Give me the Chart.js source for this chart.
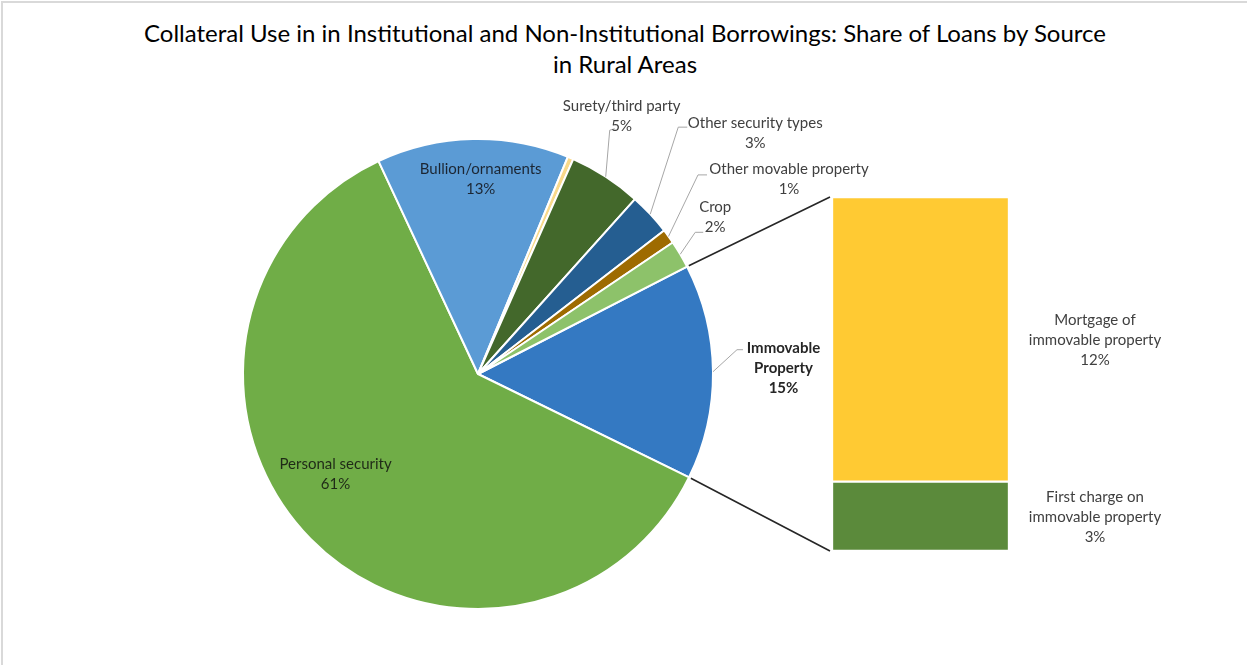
<!DOCTYPE html>
<html>
<head>
<meta charset="utf-8">
<script src="https://cdn.jsdelivr.net/npm/chart.js@4.4.1/dist/chart.umd.min.js"></script>
<style>
    body { margin: 0; background: #fff; }
    #wrap { position: relative; width: 1247px; height: 665px; background: #fff; overflow: hidden; }
    #frame { position: absolute; left: 1px; top: 1px; right: -4px; bottom: -4px; border-left: 2px solid #d9d9d9; border-top: 2px solid #d9d9d9; }
    #title { position: absolute; left: 0; top: 17px; width: 1250px; text-align: center; font-family: Lato, "Noto Sans", sans-serif; font-size: 24px; line-height: 31px; color: #000; }
    canvas { position: absolute; left: 0; top: 0; }
</style>
</head>
<body>
<div id="wrap">
    <div id="frame"></div>
    <div id="title">Collateral Use in in Institutional and Non-Institutional Borrowings: Share of Loans by Source<br>in Rural Areas</div>
    <canvas id="pieChart" width="1247" height="665"></canvas>
    <canvas id="barChart" width="1247" height="665"></canvas>
</div>
<script>
// Pie slices (clockwise, starting with the split-out slice)
const sliceLabels = ["Immovable Property", "Personal security", "Bullion/ornaments", "Unspecified",
    "Surety/third party", "Other security types", "Other movable property", "Crop"];
const sliceValues = [14.8, 60.8, 13.2, 0.4, 5.0, 2.9, 1.0, 1.9];
const sliceColors = ["#3479C2", "#70AD47", "#5B9BD5", "#F9D98A", "#43682B", "#255E91", "#9E6B00", "#8DC26A"];

// Breakdown of Immovable Property (bottom segment first)
const barLabels = ["First charge on immovable property", "Mortgage of immovable property"];
const barValues = [2.9, 11.9];
const barColors = ["#5B8A3B", "#FFCA33"];

const labelFont = "Lato, 'Noto Sans', sans-serif";
const lineHeight = 20;

// where each pie label sits (relative to its slice) and how it is drawn
const sliceLabelLayout = [
    { lines: ["Immovable", "Property"], bold: true, color: "#262626", dx: 70.5, dy: -4, elbow: [-46.5, -18], end: [-40.5, -18] },
    { lines: ["Personal security"], inside: true, k: 0.76, dx: -15, dy: -25, color: "#1f2a17" },
    { lines: ["Bullion/ornaments"], inside: true, k: 0.828, dx: 7, dy: 0, color: "#1c2633" },
    null,
    { lines: ["Surety/third party"], color: "#404040", dx: 16, dy: -61, elbow: [-12, 14.5], end: [-7, 13] },
    { lines: ["Other security types"], color: "#404040", dx: 105, dy: -81, elbow: [-77, -6], end: [-68, -6] },
    { lines: ["Other movable property"], color: "#404040", dx: 120.5, dy: -57, elbow: [-91, -4.5], end: [-82, -4.5] },
    { lines: ["Crop"], color: "#404040", dx: 35, dy: -37.5, elbow: [-20, 15.5], end: [-12, 15.5] },
];
const barLabelLines = [["First charge on", "immovable property"], ["Mortgage of", "immovable property"]];

function drawLines(ctx, lines, cx, cy) {
    lines.forEach((line, j) => {
        ctx.fillText(line, cx, cy + (j - (lines.length - 1) / 2) * lineHeight);
    });
}

// Pie data labels with leader lines
const pieLabelPlugin = {
    id: "pieLabels",
    afterDatasetsDraw(chart) {
        const ctx = chart.ctx;
        const meta = chart.getDatasetMeta(0);
        ctx.save();
        ctx.textAlign = "center";
        ctx.textBaseline = "middle";
        meta.data.forEach((arc, i) => {
            const lay = sliceLabelLayout[i];
            if (!lay) return;
            const { x, y, startAngle, endAngle, outerRadius } = arc.getProps(["x", "y", "startAngle", "endAngle", "outerRadius"], true);
            const mid = (startAngle + endAngle) / 2;
            let cx, cy;
            if (lay.inside) {
                cx = x + Math.cos(mid) * outerRadius * lay.k + lay.dx;
                cy = y + Math.sin(mid) * outerRadius * lay.k + lay.dy;
            } else {
                const ox = x + Math.cos(mid) * outerRadius;
                const oy = y + Math.sin(mid) * outerRadius;
                cx = ox + lay.dx;
                cy = oy + lay.dy;
                ctx.strokeStyle = "#a6a6a6";
                ctx.lineWidth = 1;
                ctx.beginPath();
                ctx.moveTo(ox, oy);
                ctx.lineTo(cx + lay.elbow[0], cy + lay.elbow[1]);
                ctx.lineTo(cx + lay.end[0], cy + lay.end[1]);
                ctx.stroke();
            }
            ctx.fillStyle = lay.color;
            ctx.font = (lay.bold ? "bold " : "") + "15px " + labelFont;
            drawLines(ctx, [...lay.lines, Math.round(sliceValues[i]) + "%"], cx, cy);
        });
        ctx.restore();
    },
};

const pieChart = new Chart(document.getElementById("pieChart"), {
    type: "pie",
    data: {
        labels: sliceLabels,
        datasets: [{
            data: sliceValues,
            backgroundColor: sliceColors,
            borderColor: "#ffffff",
            borderWidth: 2,
        }],
    },
    options: {
        responsive: false,
        animation: false,
        rotation: 62.8,
        layout: { padding: { left: 242, right: 533, top: 138, bottom: 55 } },
        plugins: { legend: { display: false }, tooltip: { enabled: false } },
    },
    plugins: [pieLabelPlugin],
});

// Bar labels + connector lines back to the pie slice
const barExtrasPlugin = {
    id: "barExtras",
    afterDraw(chart) {
        const ctx = chart.ctx;
        ctx.save();
        ctx.textAlign = "center";
        ctx.textBaseline = "middle";
        ctx.font = "15px " + labelFont;
        ctx.fillStyle = "#404040";
        const bars = chart.data.datasets.map((ds, i) => chart.getDatasetMeta(i).data[0]);
        bars.forEach((bar, i) => {
            const { x, y, base, width } = bar.getProps(["x", "y", "base", "width"], true);
            drawLines(ctx, [...barLabelLines[i], Math.round(barValues[i]) + "%"], x + width / 2 + 86, (y + base) / 2 + 1);
        });

        const arc = pieChart.getDatasetMeta(0).data[0];
        const p = arc.getProps(["x", "y", "startAngle", "endAngle", "outerRadius"], true);
        const top = bars[bars.length - 1].getProps(["x", "y", "width"], true);
        const bottom = bars[0].getProps(["x", "base", "width"], true);
        ctx.strokeStyle = "#262626";
        ctx.lineWidth = 1.6;
        ctx.beginPath();
        ctx.moveTo(p.x + Math.cos(p.startAngle) * (p.outerRadius + 2), p.y + Math.sin(p.startAngle) * (p.outerRadius + 2));
        ctx.lineTo(top.x - top.width / 2 - 2, top.y);
        ctx.moveTo(p.x + Math.cos(p.endAngle) * (p.outerRadius + 2), p.y + Math.sin(p.endAngle) * (p.outerRadius + 2));
        ctx.lineTo(bottom.x - bottom.width / 2 - 2, bottom.base);
        ctx.stroke();
        ctx.restore();
    },
};

new Chart(document.getElementById("barChart"), {
    type: "bar",
    data: {
        labels: [""],
        datasets: barLabels.map((label, i) => ({
            label: label,
            data: [barValues[i]],
            backgroundColor: barColors[i],
            borderColor: "#ffffff",
            borderWidth: 1.5,
            borderSkipped: false,
            barPercentage: 1,
            categoryPercentage: 1,
        })),
    },
    options: {
        responsive: false,
        animation: false,
        layout: { padding: { left: 832, right: 238, top: 197, bottom: 114 } },
        scales: {
            x: { stacked: true, display: false },
            y: { stacked: true, display: false, min: 0, max: barValues.reduce((a, b) => a + b, 0) },
        },
        plugins: { legend: { display: false }, tooltip: { enabled: false } },
    },
    plugins: [barExtrasPlugin],
});
</script>
</body>
</html>
